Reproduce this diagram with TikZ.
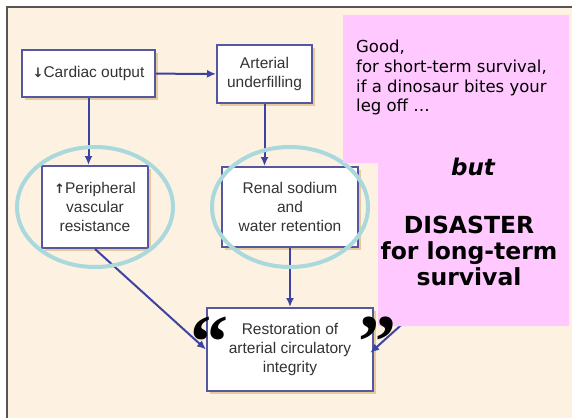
\documentclass[tikz,border=0pt]{standalone}
\usepackage{fontspec}
\setmainfont{Liberation Sans}
\newfontfamily\notefont{DejaVu Sans}
\newfontfamily\quotefont{Liberation Serif}
\usetikzlibrary{arrows.meta,positioning,shadows}

\definecolor{cream}{HTML}{FDF1E2}
\definecolor{boxline}{HTML}{5558A0}
\definecolor{arrowline}{HTML}{3C43A0}
\definecolor{ringline}{HTML}{A9D9DC}
\definecolor{notepink}{HTML}{FFC8FF}
\definecolor{framegrey}{HTML}{555555}
\definecolor{boxtext}{HTML}{333333}
\definecolor{shadowtan}{HTML}{E2BF8E}

\tikzset{
	stepbox/.style={draw=boxline, line width=2pt, fill=white, align=center,
		text=boxtext, font=\fontsize{15.5}{19}\selectfont, inner sep=0pt,
		drop shadow={fill=shadowtan, opacity=.8, shadow xshift=3pt, shadow yshift=-3pt}},
	link/.style={draw=arrowline, line width=2pt, -{Latex[length=9pt,width=8pt]}},
	ring/.style={draw=ringline, line width=4pt},
	bigquote/.style={font=\quotefont\bfseries\fontsize{76}{76}\selectfont, inner sep=0pt},
	updown/.style={font=\notefont\bfseries\fontsize{13}{13}\selectfont},
}

\begin{document}
\begin{tikzpicture}[x=1pt, y=-1pt]
		\useasboundingbox (0,0) rectangle (572,418);
		\fill[cream] (8,8) rectangle (572,418);
		\draw[framegrey, line width=2pt] (7,418) -- (7,7) -- (572,7);

		\node[stepbox, minimum width=133pt, minimum height=47pt] (cardiac) at (88.5,73.5) {{\notefont\bfseries\fontsize{13}{13}\selectfont ↓}Cardiac output};
		\node[stepbox, minimum width=95pt, minimum height=58pt] (arterial) at (264.5,74) {Arterial\\underfilling};
		\node[stepbox, minimum width=106pt, minimum height=82pt] (periph) at (95,207) {{\notefont\bfseries\fontsize{13}{13}\selectfont ↑}Peripheral\\vascular\\resistance};
		\node[stepbox, minimum width=136pt, minimum height=80pt] (renal) at (290,207) {Renal sodium\\and\\water retention};
		\node[stepbox, minimum width=166pt, minimum height=83pt] (restor) at (290,349.5) {Restoration of\\arterial circulatory\\integrity};
		\coordinate (hidden) at (420,308);

		\draw[link] (cardiac) -- (arterial);
		\draw[link] (cardiac.south) -- (cardiac.south |- periph.north);
		\draw[link] (arterial.south) -- (arterial.south |- renal.north);
		\draw[link] (renal) -- (restor);
		\draw[link] (periph.south) -- (restor.west);
		\draw[link, shorten >=-5pt] (hidden) -- (restor.east);

		\draw[ring] (periph.center) ellipse [x radius=78, y radius=60];
		\draw[ring] (renal.center) ellipse [x radius=78, y radius=60];

		\fill[notepink] (343,15) -- (569,15) -- (569,326) -- (378,326) -- (378,163) -- (343,163) -- cycle;

		\node[anchor=north west, align=left, inner sep=0pt, font=\notefont\fontsize{16.5}{19.7}\selectfont] (good) at (356,40)
			{Good,\\for short-term survival,\\if a dinosaur bites your\\leg off \dots};
		\node[anchor=base, font=\notefont\bfseries\itshape\fontsize{23}{26}\selectfont] (but) at (473,175) {but};
		\node[anchor=north, align=center, inner sep=0pt, font=\notefont\bfseries\fontsize{23.5}{26}\selectfont] (disaster) at (469,216)
			{DISASTER\\for long-term\\survival};

		\node[bigquote] (lquote) at (209,342) {“};
		\node[bigquote] (rquote) at (377,342) {”};
	\end{tikzpicture}
\end{document}
